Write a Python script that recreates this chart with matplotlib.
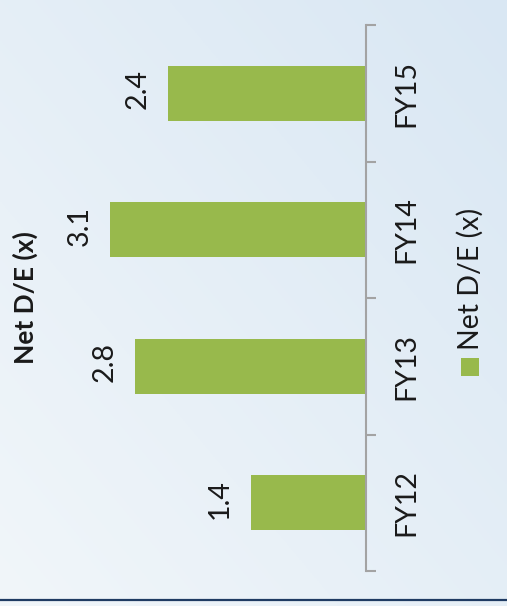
import matplotlib
matplotlib.use("Agg")
import matplotlib.pyplot as plt
import numpy as np
from matplotlib.patches import Rectangle

# ---- data ----
categories = ["FY12", "FY13", "FY14", "FY15"]
values = [1.4, 2.8, 3.1, 2.4]
value_labels = ["1.4", "2.8", "3.1", "2.4"]
series_name = "Net D/E (x)"
title_text = "Net D/E (x)"

plt.rcParams['font.family'] = ['Lato', 'DejaVu Sans']

W, H = 507, 606
DPI = 100
fig = plt.figure(figsize=(W / DPI, H / DPI), dpi=DPI)

BAR_COLOR = '#98b94c'
AXIS_COLOR = '#a3a3a3'
TEXT_COLOR = '#1a1a1a'

# ---- background gradient ----
bg = fig.add_axes([0, 0, 1, 1], zorder=-10)
bg.set_axis_off()
xx = np.linspace(0, 1, 200)
yy = np.linspace(0, 1, 240)
X, Y = np.meshgrid(xx, yy)
t = (X + (1 - Y)) / 2
light = np.array([0xf1, 0xf6, 0xfa]) / 255
dark = np.array([0xd9, 0xe7, 0xf3]) / 255
img = light[None, None, :] * (1 - t[..., None]) + dark[None, None, :] * t[..., None]
bg.imshow(img, extent=[0, W, H, 0], aspect='auto', origin='upper')
bg.set_xlim(0, W)
bg.set_ylim(H, 0)
bg.axhline(600, color='#1f3b63', lw=1.6)

# ---- main axes ----
ax_left, ax_right, ax_top, ax_bot = 0, 366, 25, 571
ax = fig.add_axes([ax_left / W, 1 - ax_bot / H, (ax_right - ax_left) / W, (ax_bot - ax_top) / H])
ax.patch.set_alpha(0)

ypos = np.arange(len(categories))
ax.barh(ypos, values, height=0.4, color=BAR_COLOR)
ax.set_ylim(-0.5, len(categories) - 0.5)
px_per_unit = 82.5
ax.set_xlim((ax_right - ax_left) / px_per_unit, 0)

for s in ['left', 'top', 'bottom']:
    ax.spines[s].set_visible(False)
ax.spines['right'].set_color(AXIS_COLOR)
ax.spines['right'].set_linewidth(1.5)
ax.xaxis.set_visible(False)

ax.yaxis.set_ticks_position('right')
ax.set_yticks(np.arange(-0.5, len(categories)), labels=[''] * (len(categories) + 1))
ax.set_yticks(ypos, labels=categories, minor=True)
ax.tick_params(axis='y', which='major', length=7.2, width=1.5, color=AXIS_COLOR,
               direction='out', right=True, labelright=True)
ax.tick_params(axis='y', which='minor', length=0, pad=29, labelsize=20.5,
               labelcolor=TEXT_COLOR, right=True, labelright=True)
for lab in ax.get_yticklabels(minor=True):
    lab.set_rotation(90)
    lab.set_ha('center')
    lab.set_va('center')

for i, (v, lbl) in enumerate(zip(values, value_labels)):
    ax.annotate(lbl, xy=(v, i), xytext=(-30.5, 4), textcoords='offset pixels',
                rotation=90, ha='center', va='center', fontsize=20.5, color=TEXT_COLOR)

# ---- title ----
fig.text(25 / W, 1 - 297.5 / H, title_text, rotation=90, ha='center', va='center',
         fontweight='bold', fontsize=19, color=TEXT_COLOR)

# ---- legend (rotated) ----
fig.patches.append(Rectangle((461 / W, 1 - 376 / H), 18 / W, 18 / H,
                             transform=fig.transFigure, facecolor=BAR_COLOR,
                             edgecolor='none', figure=fig))
fig.text(470 / W, 1 - 278.5 / H, series_name, rotation=90, ha='center', va='center',
         fontsize=20.5, color=TEXT_COLOR)

fig.savefig('out.png', dpi=DPI)
